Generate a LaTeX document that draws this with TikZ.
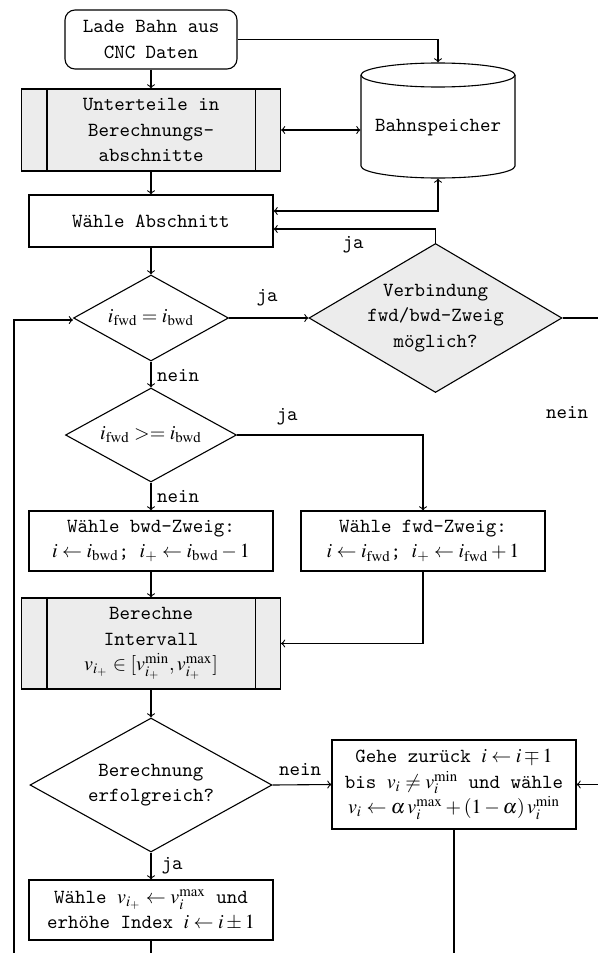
\documentclass[tikz,border=0pt]{standalone}
\usepackage{mathptmx}
\usepackage[no-math]{fontspec}
\usetikzlibrary{shapes.geometric,calc}
\begin{document}
\begin{tikzpicture}[x=0.5pt,y=-0.5pt, line width=0.55pt,
  base/.style={draw, font=\ttfamily\linespread{1.06}\selectfont, align=center, inner sep=1pt},
  proc/.style={base, rectangle, minimum width=122pt},
  sub/.style={base, rectangle, fill=gray!15, minimum width=129.5pt},
  dec/.style={base, diamond, inner sep=0pt},
  conn/.style={->},
  lbl/.style={font=\ttfamily, inner sep=1pt}]
\useasboundingbox (0,0) rectangle (598,953);
\clip (0,0) rectangle (598,953);

% nodes
\node[base, rounded corners=5pt, minimum width=86pt, minimum height=29.5pt] (lade) at (151,39.5) {Lade Bahn aus\\CNC Daten};
\node[sub, minimum height=41pt] (unter) at (151,130) {Unterteile in\\Berechnungs-\\abschnitte};
\draw ($(unter.north west)+(13pt,0)$) -- ($(unter.south west)+(13pt,0)$);
\draw ($(unter.north east)+(-13pt,0)$) -- ($(unter.south east)+(-13pt,0)$);

\node[minimum width=77pt, minimum height=57.5pt, inner sep=0pt] (sp) at (438,120.5) {};
\draw (438,75) ellipse [x radius=38.5pt, y radius=6pt];
\draw (361,75) -- (361,166) arc[start angle=180, end angle=360, x radius=38.5pt, y radius=6pt] -- (515,75);
\node[font=\ttfamily] (sptext) at (438,128) {Bahnspeicher};

\node[proc, minimum height=26pt] (abs) at (151,221) {Wähle Abschnitt};
\node[dec, minimum width=77.5pt, minimum height=43pt, aspect=1.8] (d1) at (151,318) {$i_{\mathrm{fwd}} = i_{\mathrm{bwd}}$};
\node[dec, fill=gray!15, minimum width=126.5pt, minimum height=74.5pt, aspect=1.7] (verb) at (435.5,318) {Verbindung\\fwd/bwd-Zweig\\möglich?};
\node[dec, minimum width=85.5pt, minimum height=47pt, aspect=1.8] (d2) at (151,435) {$i_{\mathrm{fwd}} >= i_{\mathrm{bwd}}$};
\node[proc, minimum height=30pt] (bwd) at (151,541) {Wähle bwd-Zweig:\\$i \leftarrow i_{\mathrm{bwd}}$; $i_+ \leftarrow i_{\mathrm{bwd}}-1$};
\node[proc, minimum height=30pt] (fwd) at (423,541) {Wähle fwd-Zweig:\\$i \leftarrow i_{\mathrm{fwd}}$; $i_+ \leftarrow i_{\mathrm{fwd}}+1$};
\node[sub, minimum height=45.5pt] (ber) at (151,643.5) {Berechne\\Intervall\\$v_{i_+} \in [v_{i_+}^{\min}, v_{i_+}^{\max}]$};
\draw ($(ber.north west)+(13pt,0)$) -- ($(ber.south west)+(13pt,0)$);
\draw ($(ber.north east)+(-13pt,0)$) -- ($(ber.south east)+(-13pt,0)$);
\node[dec, minimum width=121pt, minimum height=67pt, aspect=1.8] (d3) at (151,785) {Berechnung\\erfolgreich?};
\node[proc, minimum height=44.5pt] (gehe) at (454,784.5) {Gehe zurück $i \leftarrow i \mp 1$\\bis $v_i \neq v_i^{\min}$ und wähle\\$v_i \leftarrow \alpha\, v_i^{\max} + (1-\alpha)\, v_i^{\min}$};
\node[proc, minimum height=30pt] (wv) at (151,910) {Wähle $v_{i_+} \leftarrow v_i^{\max}$ und\\erhöhe Index $i \leftarrow i \pm 1$};

% labels
\node[lbl] (lja0) at (353,245) {ja};
\node[lbl] (lja1) at (267,298) {ja};
\node[lbl] (lnein0) at (567,413) {nein};
\node[lbl] (lnein1) at (178,376) {nein};
\node[lbl] (lja2) at (287,417) {ja};
\node[lbl] (lnein2) at (178,497) {nein};
\node[lbl] (lnein3) at (300,770) {nein};
\node[lbl] (lja3) at (172,866) {ja};

% coordinates
\coordinate (a1) at ($(abs.east)+(0,-10)$);
\coordinate (a2) at ($(abs.east)+(0,8)$);
\coordinate (rt1) at (630,318);
\coordinate (rt2) at (630,784.5);
\coordinate (b1) at (151,990);
\coordinate (b2) at (454,990);
\coordinate (l1) at (14,990);
\coordinate (l2) at (14,320);
\coordinate (l3) at ($(d1.west)+(0,2)$);

% connectors
\draw[conn] (lade) -- (unter);
\draw[conn] (lade.east) -| (sp.north);
\draw[<->] (unter.east) -- (sp.west |- unter.east);
\draw[conn] (unter) -- (abs);
\draw[<->] (a1) -| (sp.south);
\draw[conn] (verb.north) |- (a2);
\draw[conn] (abs) -- (d1);
\draw[conn] (d1.east) -- (verb.west);
\draw (verb.east) -- (rt1) -- (rt2);
\draw[conn] (rt2) -- (gehe.east);
\draw[conn] (d1) -- (d2);
\draw[conn] (d2.east) -| (fwd.north);
\draw[conn] (d2) -- (bwd);
\draw[conn] (bwd) -- (ber);
\draw[conn] (fwd.south) |- (ber.east);
\draw[conn] (ber) -- (d3);
\draw[conn] (d3.east) -- (gehe.west);
\draw[conn] (d3) -- (wv);
\draw (wv) -- (b1);
\draw (gehe) -- (b2);
\draw[conn] (l1) -- (l2) -- (l3);
\end{tikzpicture}
\end{document}
